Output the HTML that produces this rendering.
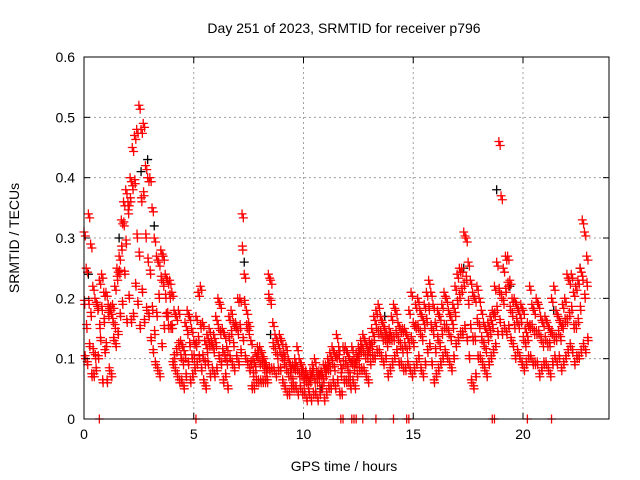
<!DOCTYPE html>
<html><head><meta charset="utf-8">
<style>
html,body{margin:0;padding:0;background:#fff;}
svg{display:block;font-family:"Liberation Sans",sans-serif;}
</style></head>
<body>
<svg id="chart" width="640" height="480" viewBox="0 0 640 480" xmlns="http://www.w3.org/2000/svg">
<rect x="0" y="0" width="640" height="480" fill="#fff"/>
<g id="grid"></g>
<g id="marks"></g>
<rect x="84" y="57" width="525" height="362" fill="none" stroke="#000" stroke-width="1"/>
<g id="ticks"></g>
<text x="344" y="33" font-size="14" text-anchor="middle" fill="#000">Day 251 of 2023, SRMTID for receiver p796</text>
<text x="344" y="471" font-size="14" text-anchor="middle" fill="#000">GPS time / hours</text>
<text x="0" y="0" font-size="14" text-anchor="middle" fill="#000" transform="translate(19,238) rotate(-90)">SRMTID / TECUs</text>
</svg>
<script>
const xTicks=[0,5,10,15,20];
const yTicks=[0,0.1,0.2,0.3,0.4,0.5,0.6];
const yTickLabels=["0","0.1","0.2","0.3","0.4","0.5","0.6"];
const step=0.1;
const redHi=[0.31,0.25,0.34,0.29,0.22,0.20,0.19,0.23,0.24,0.21,
0.21,0.19,0.18,0.19,0.22,0.25,0.27,0.33,0.36,0.38,
0.36,0.40,0.45,0.47,0.48,0.52,0.48,0.49,0.42,0.40,
0.40,0.35,0.30,0.27,0.26,0.28,0.27,0.24,0.23,0.23,
0.21,0.18,0.17,0.18,0.13,0.12,0.16,0.18,0.17,0.15,
0.13,0.17,0.21,0.22,0.16,0.13,0.14,0.15,0.13,0.14,
0.17,0.20,0.19,0.15,0.14,0.12,0.17,0.18,0.16,0.16,
0.20,0.20,0.34,0.24,0.18,0.16,0.13,0.10,0.11,0.12,
0.12,0.11,0.10,0.09,0.24,0.23,0.16,0.14,0.13,0.14,
0.13,0.11,0.12,0.10,0.09,0.09,0.10,0.12,0.10,0.09,
0.08,0.08,0.07,0.08,0.09,0.10,0.08,0.08,0.08,0.09,
0.09,0.10,0.11,0.12,0.11,0.14,0.12,0.09,0.12,0.12,
0.11,0.10,0.12,0.10,0.11,0.12,0.13,0.14,0.13,0.12,
0.13,0.15,0.17,0.18,0.19,0.17,0.16,0.15,0.14,0.15,
0.17,0.19,0.18,0.16,0.15,0.15,0.15,0.14,0.18,0.21,
0.16,0.19,0.20,0.18,0.17,0.19,0.21,0.23,0.21,0.19,
0.16,0.18,0.17,0.19,0.21,0.20,0.18,0.17,0.19,0.22,
0.24,0.25,0.25,0.31,0.30,0.26,0.23,0.21,0.20,0.22,
0.20,0.18,0.16,0.15,0.16,0.17,0.18,0.22,0.26,0.46,
0.37,0.25,0.27,0.27,0.23,0.20,0.20,0.19,0.18,0.19,
0.18,0.15,0.16,0.22,0.19,0.18,0.20,0.19,0.17,0.16,
0.17,0.16,0.15,0.20,0.22,0.18,0.17,0.16,0.19,0.20,
0.24,0.23,0.24,0.21,0.22,0.23,0.25,0.33,0.31,0.27];
const redMid=[0.19,0.15,0.19,0.17,0.11,0.10,0.18,0.15,0.18,0.16,
0.12,0.17,0.18,0.16,0.15,0.23,0.24,0.28,0.32,0.29,
0.34,0.36,0.38,0.39,0.30,0.27,0.36,0.37,0.30,0.26,
0.24,0.18,0.14,0.17,0.20,0.23,0.22,0.20,0.17,0.20,
0.15,0.10,0.11,0.12,0.10,0.09,0.10,0.14,0.12,0.10,
0.10,0.12,0.13,0.15,0.10,0.09,0.11,0.12,0.12,0.11,
0.12,0.15,0.14,0.11,0.10,0.09,0.13,0.14,0.12,0.15,
0.14,0.15,0.28,0.19,0.15,0.14,0.09,0.07,0.08,0.10,
0.09,0.09,0.08,0.07,0.20,0.19,0.12,0.11,0.10,0.11,
0.10,0.09,0.08,0.07,0.07,0.06,0.08,0.08,0.07,0.07,
0.06,0.06,0.05,0.06,0.07,0.06,0.06,0.06,0.07,0.06,
0.07,0.08,0.08,0.09,0.08,0.10,0.10,0.07,0.09,0.09,
0.08,0.07,0.09,0.08,0.09,0.10,0.11,0.11,0.10,0.10,
0.11,0.12,0.13,0.15,0.14,0.14,0.13,0.13,0.12,0.13,
0.13,0.13,0.14,0.13,0.12,0.11,0.12,0.11,0.12,0.13,
0.12,0.15,0.15,0.14,0.13,0.15,0.16,0.18,0.15,0.14,
0.11,0.13,0.12,0.14,0.15,0.15,0.14,0.13,0.15,0.17,
0.19,0.20,0.21,0.22,0.23,0.19,0.15,0.13,0.13,0.16,
0.15,0.13,0.12,0.11,0.13,0.14,0.15,0.17,0.18,0.21,
0.20,0.19,0.21,0.22,0.18,0.17,0.15,0.16,0.15,0.16,
0.13,0.12,0.13,0.15,0.15,0.14,0.14,0.14,0.13,0.12,
0.13,0.12,0.12,0.14,0.13,0.13,0.14,0.13,0.15,0.16,
0.16,0.17,0.18,0.15,0.15,0.16,0.18,0.23,0.20,0.22];
const redLo=[0.10,0.09,0.12,0.07,0.07,0.08,0.10,0.13,0.06,0.11,
0.06,0.08,0.07,0.13,0.12,0.14,0.17,0.19,0.24,0.16,
0.20,0.16,0.17,0.22,0.19,0.15,0.21,0.16,0.18,0.17,
0.13,0.11,0.09,0.08,0.07,0.12,0.15,0.17,0.15,0.15,
0.09,0.08,0.07,0.06,0.06,0.05,0.07,0.09,0.06,0.07,
0.08,0.09,0.10,0.08,0.06,0.05,0.09,0.07,0.08,0.07,
0.08,0.10,0.09,0.06,0.07,0.05,0.10,0.09,0.08,0.10,
0.09,0.11,0.13,0.10,0.09,0.08,0.05,0.05,0.06,0.06,
0.06,0.06,0.06,0.06,0.08,0.08,0.08,0.07,0.08,0.08,
0.06,0.05,0.04,0.04,0.05,0.05,0.05,0.04,0.05,0.04,
0.04,0.03,0.04,0.03,0.04,0.04,0.03,0.04,0.05,0.03,
0.04,0.05,0.05,0.06,0.05,0.06,0.04,0.04,0.06,0.06,
0.06,0.05,0.06,0.05,0.07,0.08,0.08,0.08,0.07,0.06,
0.09,0.10,0.10,0.11,0.11,0.10,0.09,0.10,0.07,0.08,
0.09,0.10,0.11,0.09,0.09,0.08,0.08,0.09,0.08,0.07,
0.08,0.09,0.10,0.08,0.07,0.09,0.11,0.12,0.09,0.06,
0.07,0.08,0.09,0.10,0.11,0.10,0.09,0.08,0.10,0.12,
0.13,0.14,0.14,0.15,0.13,0.10,0.06,0.05,0.07,0.10,
0.10,0.09,0.08,0.07,0.09,0.10,0.11,0.12,0.14,0.16,
0.14,0.15,0.14,0.15,0.13,0.12,0.10,0.11,0.10,0.09,
0.08,0.09,0.10,0.10,0.09,0.09,0.09,0.07,0.08,0.09,
0.09,0.08,0.07,0.09,0.10,0.09,0.10,0.08,0.09,0.10,
0.11,0.12,0.11,0.09,0.10,0.10,0.11,0.12,0.11,0.13];
const blackT=[0.2,1.6,2.6,2.9,3.2,3.6,7.3,8.5,10.8,13.7,17.3,18.8,19.4,21.4,22.6];
const blackV=[0.24,0.30,0.41,0.43,0.32,0.27,0.26,0.14,0.05,0.17,0.25,0.38,0.22,0.18,0.25];
const zeroT=[0.7,5.1,11.7,11.8,12.2,12.3,12.4,12.7,13.3,14.1,14.7,14.8,18.6,18.7,20.2,21.3];

const X0=84,X1=609,Y0=419,Y1=57,XMAX=(609-84)/21.95;
const sx=t=>X0+t/XMAX*(X1-X0);
const sy=v=>Y0-v/0.6*(Y0-Y1);
const NS="http://www.w3.org/2000/svg";
function mk(tag,attrs,parent){const e=document.createElementNS(NS,tag);for(const k in attrs)e.setAttribute(k,attrs[k]);parent.appendChild(e);return e;}
const grid=document.getElementById('grid'),ticks=document.getElementById('ticks'),marks=document.getElementById('marks');
xTicks.forEach(t=>{
  const x=sx(t);
  if(t>0){const g=mk('line',{x1:x,x2:x,y1:Y1,y2:Y0,stroke:'#a0a0a0','stroke-dasharray':'2,3'},grid);
  
  }
  mk('line',{x1:x,x2:x,y1:Y0,y2:Y0-6,stroke:'#000'},ticks);
  mk('line',{x1:x,x2:x,y1:Y1,y2:Y1+6,stroke:'#000'},ticks);
  const l=mk('text',{x:x,y:Y0+20,'font-size':14,'text-anchor':'middle'},ticks);
  l.textContent=String(t);
  
  
});
yTicks.forEach((v,i)=>{
  const y=sy(v);
  if(v>0&&v<0.6){const g=mk('line',{x1:X0,x2:X1,y1:y,y2:y,stroke:'#a0a0a0','stroke-dasharray':'2,3'},grid);
  
  }
  mk('line',{x1:X0,x2:X0+6,y1:y,y2:y,stroke:'#000'},ticks);
  mk('line',{x1:X1,x2:X1-6,y1:y,y2:y,stroke:'#000'},ticks);
  const l=mk('text',{x:X0-9,y:y+5,'font-size':14,'text-anchor':'end'},ticks);
  l.textContent=yTickLabels[i];
  
  
});
function cross(t,v,color,name,dy){
  const x=sx(t),y=sy(v)+(dy||0);
  const p=mk('path',{d:`M${x-4.5} ${y}H${x+4.5}M${x} ${y-4.5}V${y+4.5}`,stroke:color,'stroke-width':1.3,fill:'none'},marks);
  
  
}
blackT.forEach((t,i)=>cross(t,blackV[i],'#000','black-point'));
const series=[[redHi,0,0],[redMid,0.035,0],[redLo,0.07,0],[redHi,0.06,4],[redMid,0.015,-4],[redLo,0.05,-3]];
series.forEach(([arr,off,dy])=>arr.forEach((v,i)=>cross(i*step+off,v,'#f00','red-point',dy)));
zeroT.forEach(t=>cross(t,0,'#f00','zero-point'));
</script>
</body></html>
